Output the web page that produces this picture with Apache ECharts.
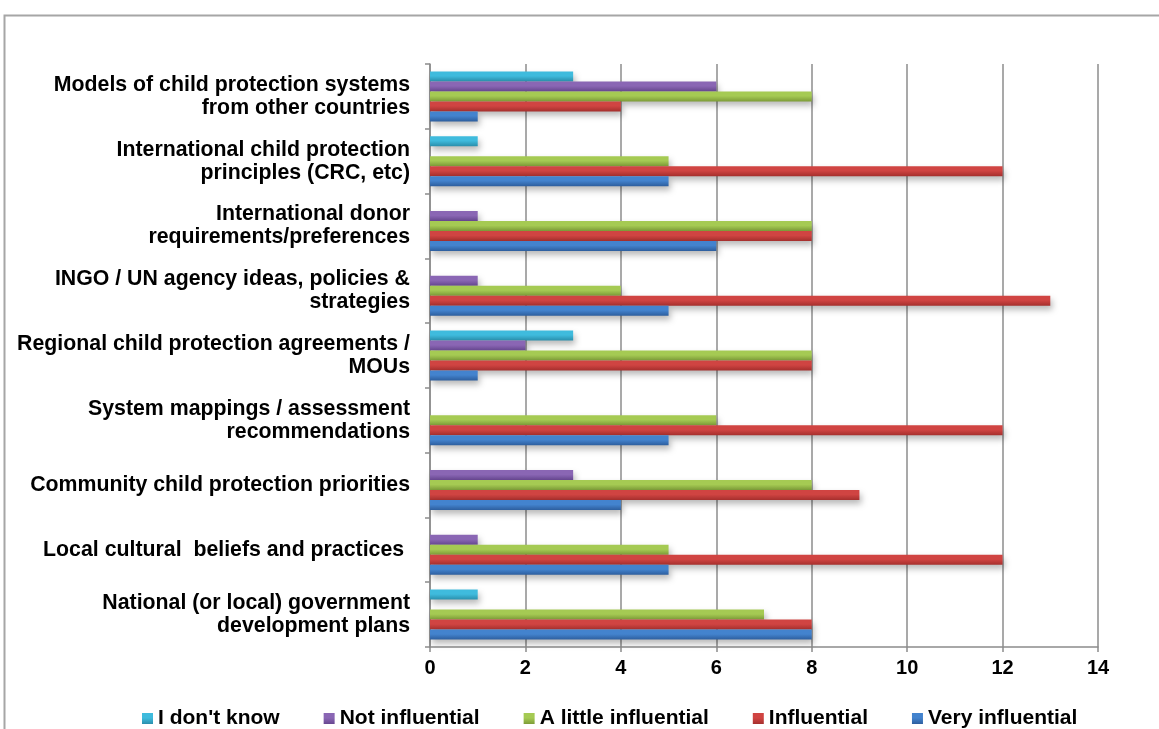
<!DOCTYPE html>
<html>
<head>
<meta charset="utf-8">
<script src="https://cdn.jsdelivr.net/npm/echarts@6/dist/echarts.min.js"></script>
<style>
  html, body { margin: 0; padding: 0; background: #fff; }
  #chart { width: 1159px; height: 729px; }
</style>
</head>
<body>
<div id="chart"></div>
<script>
// categories, top to bottom as in the picture
var categories = [
  'Models of child protection systems\nfrom other countries',
  'International child protection\nprinciples (CRC, etc)',
  'International donor\nrequirements/preferences',
  'INGO / UN agency ideas, policies &\nstrategies',
  'Regional child protection agreements /\nMOUs',
  'System mappings / assessment\nrecommendations',
  'Community child protection priorities',
  'Local cultural  beliefs and practices ',
  'National (or local) government\ndevelopment plans'
];
var dontKnow       = [3, 1, 0, 0, 3, 0, 0, 0, 1];
var notInfluential = [6, 0, 1, 1, 2, 0, 3, 1, 0];
var littleInfl     = [8, 5, 8, 4, 8, 6, 8, 5, 7];
var influential    = [4, 12, 8, 13, 8, 12, 9, 12, 8];
var veryInfl       = [1, 5, 6, 5, 1, 5, 4, 5, 8];
var xTicks = [0, 2, 4, 6, 8, 10, 12, 14];

var seriesNames = ["I don't know", 'Not influential', 'A little influential', 'Influential', 'Very influential'];
var seriesData = [dontKnow, notInfluential, littleInfl, influential, veryInfl];
var colors = [
  ['#3fbbdd', '#2a8fac'],
  ['#8a66b4', '#674790'],
  ['#a5ca53', '#7d9c38'],
  ['#d04442', '#a52f2d'],
  ['#4383ce', '#2d5e9e']
];

function grad(c) {
  return new echarts.graphic.LinearGradient(0, 0, 0, 1, [
    {offset: 0, color: c[0]},
    {offset: 0.45, color: c[0]},
    {offset: 1, color: c[1]}
  ]);
}

var chart = echarts.init(document.getElementById('chart'));
var font = '"Liberation Sans", Arial, sans-serif';

var series = seriesNames.map(function (name, i) {
  return {
    name: name,
    type: 'bar',
    barWidth: 10,
    barGap: 0,
    data: seriesData[i].map(function (v) { return v === 0 ? '-' : v; }),
    itemStyle: {
      color: grad(colors[i]),
      shadowColor: 'rgba(0,0,0,0.28)',
      shadowBlur: 6,
      shadowOffsetX: 2,
      shadowOffsetY: 4
    }
  };
});

chart.setOption({
  animation: false,
  color: colors.map(function (c) { return grad(c); }),
  graphic: [{
    type: 'rect',
    shape: {x: 4.5, y: 15.5, width: 1200, height: 800},
    style: {fill: 'none', stroke: '#a6a6a6', lineWidth: 2},
    silent: true,
    z: -10
  }],
  grid: {left: 430, right: 61, top: 64, bottom: 82, containLabel: false},
  legend: {
    left: 137,
    top: 703,
    itemWidth: 11,
    itemHeight: 11,
    itemGap: 44,
    icon: 'rect',
    data: seriesNames,
    textStyle: {fontFamily: font, fontWeight: 'bold', fontSize: 21, color: '#000'}
  },
  xAxis: {
    type: 'value',
    min: xTicks[0],
    max: xTicks[xTicks.length - 1],
    interval: 2,
    axisLine: {show: true, lineStyle: {color: '#8c8c8c', width: 1.5}},
    axisTick: {show: true, length: 5, lineStyle: {color: '#8c8c8c', width: 1.5}},
    splitLine: {show: true, lineStyle: {color: '#8c8c8c', width: 1.5}},
    axisLabel: {margin: 11, fontFamily: font, fontWeight: 'bold', fontSize: 20, color: '#000'}
  },
  yAxis: {
    type: 'category',
    inverse: true,
    data: categories,
    axisLine: {show: true, lineStyle: {color: '#8c8c8c', width: 1.5}},
    axisTick: {show: true, length: 5, lineStyle: {color: '#8c8c8c', width: 1.5}},
    axisLabel: {
      margin: 20,
      fontFamily: font,
      fontWeight: 'bold',
      fontSize: 21.3,
      lineHeight: 23,
      color: '#000',
      align: 'right'
    }
  },
  series: series
});
</script>
</body>
</html>
